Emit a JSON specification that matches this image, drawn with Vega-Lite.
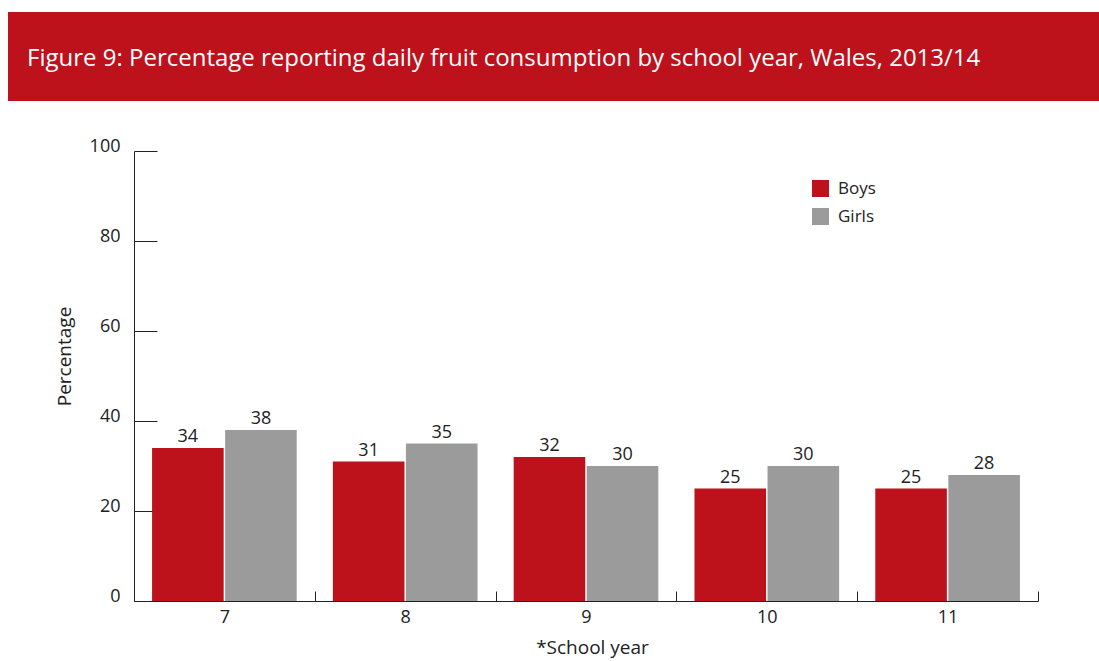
{
  "$schema": "https://vega.github.io/schema/vega-lite/v6.json",
  "padding": {"left": 8, "top": 12, "right": 0, "bottom": 4},
  "spacing": 0,
  "background": "white",
  "config": {"font": "Open Sans", "view": {"stroke": null}},
  "vconcat": [
    {
      "width": 1091,
      "height": 89,
      "view": {"fill": "#BD111C", "stroke": null},
      "data": {"values": [{"title": "Figure 9: Percentage reporting daily fruit consumption by school year, Wales, 2013/14"}]},
      "mark": {"type": "text", "align": "left", "baseline": "alphabetic", "dx": 19, "dy": 9.5, "fontSize": 24, "color": "white"},
      "encoding": {
        "text": {"field": "title"},
        "x": {"datum": 0, "type": "quantitative", "scale": {"domain": [0, 1]}, "axis": null}
      }
    },
    {
      "width": 1091,
      "height": 500,
      "data": {"values": [
        {"year": "7", "sex": "Boys", "pct": 34}, {"year": "7", "sex": "Girls", "pct": 38},
        {"year": "8", "sex": "Boys", "pct": 31}, {"year": "8", "sex": "Girls", "pct": 35},
        {"year": "9", "sex": "Boys", "pct": 32}, {"year": "9", "sex": "Girls", "pct": 30},
        {"year": "10", "sex": "Boys", "pct": 25}, {"year": "10", "sex": "Girls", "pct": 30},
        {"year": "11", "sex": "Boys", "pct": 25}, {"year": "11", "sex": "Girls", "pct": 28}
      ]},
      "encoding": {
        "x": {
          "field": "year", "type": "ordinal", "sort": ["7", "8", "9", "10", "11"],
          "scale": {"range": [126, 1030], "paddingInner": 0, "paddingOuter": 0},
          "axis": {
            "title": "*School year", "labelAngle": 0, "tickBand": "extent", "tickSize": -10,
            "labelPadding": 17, "labelFontSize": 18, "labelColor": "#222", "labelBaseline": "top",
            "domainColor": "#222", "tickColor": "#222",
            "titleFontSize": 19, "titleFontWeight": "normal", "titleColor": "#222",
            "titleX": 584, "titleY": 52, "titleBaseline": "alphabetic", "titleAlign": "center"
          }
        },
        "xOffset": {"field": "sex", "type": "nominal", "scale": {"paddingInner": 0.02, "paddingOuter": 0.2474}},
        "y": {
          "field": "pct", "type": "quantitative",
          "scale": {"domain": [0, 100], "range": [500, 50], "nice": false},
          "axis": {
            "title": "Percentage", "values": [0, 20, 40, 60, 80, 100], "offset": -126,
            "tickSize": -23, "labelPadding": 37, "labelFontSize": 18, "labelBaseline": "alphabetic",
            "labelColor": "#222", "domainColor": "#222", "tickColor": "#222", "grid": false,
            "titleFontSize": 19, "titleFontWeight": "normal", "titleColor": "#222",
            "titleX": -64, "titleY": 255, "titleBaseline": "alphabetic", "titleAlign": "center"
          }
        }
      },
      "layer": [
        {
          "mark": {"type": "bar"},
          "encoding": {
            "color": {
              "field": "sex", "type": "nominal",
              "scale": {"domain": ["Boys", "Girls"], "range": ["#BD111C", "#9B9B9B"]},
              "legend": {
                "title": null, "orient": "none", "legendX": 804, "legendY": 168,
                "symbolType": "square", "symbolSize": 289, "symbolStrokeWidth": 0,
                "labelFontSize": 17, "labelColor": "#222", "labelOffset": 9,
                "rowPadding": 10, "padding": 0
              }
            }
          }
        },
        {
          "mark": {"type": "text", "baseline": "alphabetic", "dy": -6, "fontSize": 18, "color": "#222"},
          "encoding": {"text": {"field": "pct", "type": "quantitative"}}
        }
      ]
    }
  ]
}
